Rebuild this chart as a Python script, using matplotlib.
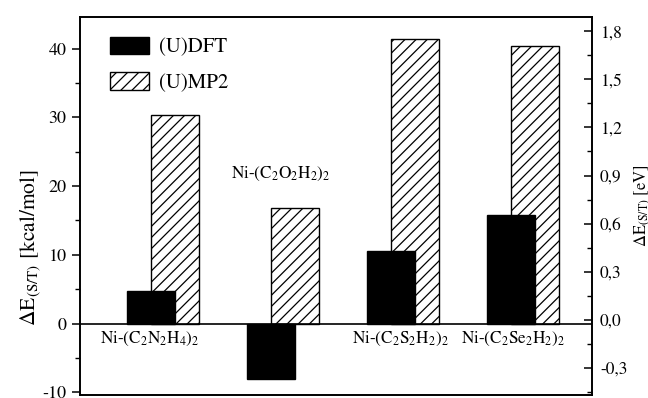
import numpy as np
import matplotlib
matplotlib.use("Agg")
from matplotlib import pyplot as plt
from matplotlib.ticker import MultipleLocator, FuncFormatter

# data (kcal/mol)
systems = [r"Ni-(C$_2$N$_2$H$_4$)$_2$", r"Ni-(C$_2$O$_2$H$_2$)$_2$",
           r"Ni-(C$_2$S$_2$H$_2$)$_2$", r"Ni-(C$_2$Se$_2$H$_2$)$_2$"]
dft = [4.8, -8.1, 10.6, 15.8]
mp2 = [30.3, 16.8, 41.4, 40.3]

plt.rcParams["font.family"] = ["STIXGeneral", "DejaVu Serif"]
plt.rcParams["mathtext.fontset"] = "stix"
plt.rcParams["mathtext.default"] = "regular"
plt.rcParams["axes.unicode_minus"] = False
plt.rcParams["hatch.linewidth"] = 0.9

fig = plt.figure(figsize=(6.48, 3.98), dpi=100)
ax = fig.add_axes([0.123, 0.0075, 0.79, 0.95])

x = np.arange(1, len(systems) + 1)
w = 0.4
ax.bar(x + 0.1, mp2, w, facecolor="white", edgecolor="black", hatch="///",
       linewidth=1.0, zorder=2, label="(U)MP2")
ax.bar(x - 0.1, dft, w, color="black", edgecolor="black", linewidth=1.0,
       zorder=3, label="(U)DFT")
ax.axhline(0, color="black", lw=1.2, zorder=4)

ax.set_xlim(0.31, 4.57)
ax.set_ylim(-10.4, 44.6)
ax.set_xticks([])
ax.yaxis.set_major_locator(MultipleLocator(10))
ax.yaxis.set_minor_locator(MultipleLocator(5))
ax.tick_params(axis="y", which="major", direction="out", length=6, width=1.1,
               labelsize=13)
ax.tick_params(axis="y", which="minor", direction="out", length=3.5, width=1.0)
for s in ax.spines.values():
    s.set_linewidth(1.2)
ax.set_ylabel(r"$\Delta$E$_{(S/T)}$ [kcal/mol]", fontsize=15.5)
ax.yaxis.set_label_coords(-0.071, 0.39)

# labels for the systems
label_pos = [(-0.11, -2.3), (-0.02, 21.7), (-0.02, -2.3), (-0.08, -2.3)]
for i, name in enumerate(systems):
    dx, yy = label_pos[i]
    ax.text(x[i] + dx, yy, name, ha="center", va="center", fontsize=12.3)

# second axis in eV
ax2 = ax.twinx()
ax2.set_ylim(-0.47, 1.89)
ax2.yaxis.set_major_locator(MultipleLocator(0.3))
ax2.yaxis.set_minor_locator(MultipleLocator(0.15))
ax2.yaxis.set_major_formatter(FuncFormatter(
    lambda v, p: f"{v:.1f}".replace(".", ",").replace("-0,0", "0,0")))
ax2.tick_params(axis="y", which="major", direction="in", length=6, width=1.1,
                labelsize=12.5, pad=6)
ax2.tick_params(axis="y", which="minor", direction="in", length=3.5, width=1.0)
ax2.set_ylabel(r"$\Delta$E$_{(S/T)}$ [eV]", fontsize=12)
ax2.yaxis.set_label_coords(1.080, 0.5)
for s in ax2.spines.values():
    s.set_linewidth(1.2)

h, l = ax.get_legend_handles_labels()
ax.legend(h[::-1], l[::-1], loc="upper left", bbox_to_anchor=(0.059, 0.948),
          frameon=False, fontsize=15, borderpad=0, borderaxespad=0,
          handlelength=1.9, handleheight=0.9, handletextpad=0.45,
          labelspacing=0.72)

fig.savefig("out.png", dpi=100)
